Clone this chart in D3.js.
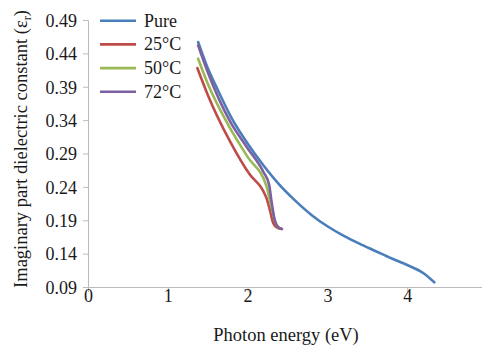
<!DOCTYPE html>
<html>
<head>
<meta charset="utf-8">
<script src="https://cdn.jsdelivr.net/npm/d3@7"></script>
<style>
  body { margin: 0; background: #fff; }
  svg { display: block; font-family: "Liberation Serif", "Times New Roman", serif; }
</style>
</head>
<body>
<div id="container"></div>
<script>
/* DATA */
const seriesNames = ["Pure", "25°C", "50°C", "72°C"];
const seriesColors = ["#4a7ebb", "#be4b48", "#98b954", "#7d60a0"];

const pureX = [1.38, 1.5, 1.6, 1.8, 2.0, 2.2, 2.4, 2.6, 2.8, 3.0, 3.2, 3.4, 3.6, 3.8, 4.0, 4.2, 4.34];
const pureY = [0.457, 0.418, 0.392, 0.343, 0.305, 0.272, 0.243, 0.219, 0.198, 0.181, 0.167, 0.155, 0.144, 0.133, 0.123, 0.111, 0.097];

const t25X = [1.37, 1.5, 1.78, 2.03, 2.19, 2.24, 2.28, 2.32, 2.37, 2.43];
const t25Y = [0.418, 0.378, 0.308, 0.258, 0.235, 0.222, 0.205, 0.186, 0.179, 0.177];

const t50X = [1.38, 1.5, 1.78, 2.0, 2.24, 2.27, 2.3, 2.34, 2.38, 2.43];
const t50Y = [0.432, 0.395, 0.328, 0.285, 0.24, 0.225, 0.21, 0.19, 0.18, 0.177];

const t72X = [1.38, 1.5, 1.78, 2.0, 2.2, 2.27, 2.3, 2.34, 2.38, 2.43];
const t72Y = [0.452, 0.412, 0.338, 0.298, 0.262, 0.243, 0.218, 0.19, 0.18, 0.177];

const xTicks = [0, 1, 2, 3, 4, 5];
const yTicks = [0.09, 0.14, 0.19, 0.24, 0.29, 0.34, 0.39, 0.44, 0.49];

const series = [
  { name: seriesNames[0], x: pureX, y: pureY },
  { name: seriesNames[1], x: t25X, y: t25Y },
  { name: seriesNames[2], x: t50X, y: t50Y },
  { name: seriesNames[3], x: t72X, y: t72Y }
];

/* CONSTANTS */
const width = 482, height = 345;

const svg = d3.select("#container").append("svg")
  .attr("width", width)
  .attr("height", height);

/* SCALES */
const xScale = d3.scaleLinear().domain([0, 5]).range([88, 487]);
const yScale = d3.scaleLinear().domain([0.09, 0.49]).range([287, 20]);

const xAxis = d3.axisBottom(xScale).tickValues(xTicks).tickFormat(d3.format("d")).tickSize(5).tickPadding(-3);
const yAxis = d3.axisLeft(yScale).tickValues(yTicks).tickFormat(d3.format(".2f")).tickSize(5).tickPadding(6);

const gx = svg.append("g")
  .attr("transform", `translate(0,${yScale(0.09)})`)
  .call(xAxis);
const gy = svg.append("g")
  .attr("transform", `translate(${xScale(0)},0)`)
  .call(yAxis);

[gx, gy].forEach(g => {
  g.attr("font-family", null);
  g.select(".domain").attr("stroke", "#bcbcbc");
  g.selectAll(".tick line").attr("stroke", "#bcbcbc");
  g.selectAll(".tick text")
    .attr("fill", "#1a1a1a")
    .style("font-family", "'Liberation Serif', serif")
    .style("font-size", "18px");
});
gy.selectAll(".tick text").attr("dy", "0.35em");

/* LINES */
const line = d3.line()
  .x(d => xScale(d[0]))
  .y(d => yScale(d[1]))
  .curve(d3.curveMonotoneX);

series.forEach((s, i) => {
  svg.append("path")
    .datum(s.x.map((v, j) => [v, s.y[j]]))
    .attr("d", line)
    .attr("fill", "none")
    .attr("stroke", seriesColors[i])
    .attr("stroke-width", 2.6)
    .attr("stroke-linecap", "round");
});

/* LEGEND */
const legend = svg.append("g");
series.forEach((s, i) => {
  const ly = 20.7 + i * 23.7;
  legend.append("line")
    .attr("x1", 100).attr("x2", 136)
    .attr("y1", ly).attr("y2", ly)
    .attr("stroke", seriesColors[i])
    .attr("stroke-width", 2.6);
  legend.append("text")
    .attr("x", 144).attr("y", ly + 6)
    .attr("fill", "#1a1a1a")
    .style("font-size", "18px")
    .text(s.name);
});

/* TITLES */
svg.append("text")
  .attr("x", 286).attr("y", 341)
  .attr("text-anchor", "middle")
  .attr("fill", "#1a1a1a")
  .style("font-size", "18.5px")
  .text("Photon energy (eV)");

const yt = svg.append("text")
  .attr("transform", "translate(27,149) rotate(-90)")
  .attr("text-anchor", "middle")
  .attr("fill", "#1a1a1a")
  .style("font-size", "18.5px");
yt.append("tspan").text("Imaginary part dielectric constant (ε");
yt.append("tspan").attr("dy", 4).style("font-size", "12px").text("r");
yt.append("tspan").attr("dy", -4).text(")");
</script>
</body>
</html>
